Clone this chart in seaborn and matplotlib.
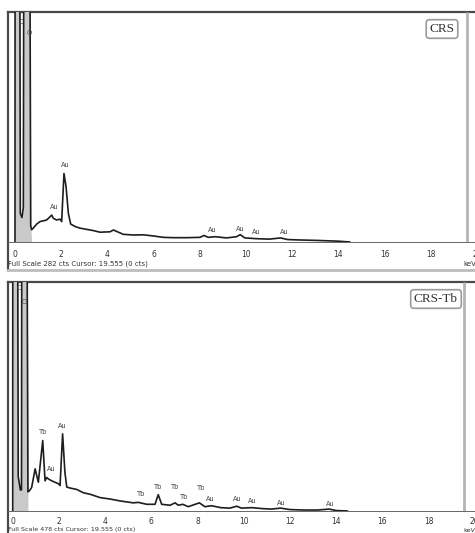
import numpy as np
import pandas as pd
import matplotlib
matplotlib.use("Agg")
import matplotlib.pyplot as plt
from matplotlib.ticker import MultipleLocator
import seaborn as sns

# EDS spectrum of CRS (energy in keV, counts)
crs_energy = [0.00, 0.005, 0.20, 0.23, 0.30, 0.36, 0.39, 0.63, 0.68, 0.72, 0.79, 0.94,
              1.08, 1.23, 1.37, 1.52, 1.59, 1.66, 1.80, 1.95, 2.02, 2.12, 2.21, 2.31,
              2.41, 2.60, 2.81, 3.10, 3.39, 3.68, 4.11, 4.26, 4.69, 5.11, 5.56, 5.99,
              6.42, 6.86, 7.43, 8.01, 8.18, 8.37, 8.66, 9.16, 9.59, 9.75, 9.95, 10.5,
              11.0, 11.5, 11.8, 12.3, 13.0, 14.0, 14.5]
crs_counts = [0, 500, 500, 35, 30, 42, 500, 500, 20, 15, 17, 22,
              25, 26, 27, 31, 33, 29, 27, 28, 25, 84, 68, 35,
              22, 19, 17, 15.5, 14, 12, 12.5, 14.7, 9.4, 8.6, 8.8, 7.4,
              5.7, 5.3, 5.3, 5.7, 8, 5.7, 6.5, 5, 6.5, 9, 5, 4,
              3.5, 5, 3, 2.5, 2, 1, 0]

# EDS spectrum of CRS-Tb (energy in keV, counts)
crstb_energy = [0.00, 0.005, 0.20, 0.24, 0.33, 0.38, 0.40, 0.60, 0.66, 0.72, 0.82, 0.97,
                1.11, 1.30, 1.40, 1.47, 1.54, 1.69, 1.83, 1.98, 2.05, 2.16, 2.26, 2.34,
                2.48, 2.77, 3.06, 3.35, 3.78, 4.21, 4.65, 5.22, 5.44, 5.80, 6.16, 6.30,
                6.45, 6.81, 7.03, 7.17, 7.36, 7.60, 8.08, 8.32, 8.61, 9.00, 9.40, 9.70,
                9.90, 10.35, 10.80, 11.20, 11.60, 12.00, 12.60, 13.20, 13.70, 14.00, 14.50]
crstb_counts = [0, 900, 900, 72, 44, 44, 900, 900, 40, 42, 49, 88,
                60, 147, 63, 70, 67, 63, 60, 57, 53, 161, 81, 50,
                48, 45, 38, 35, 28, 25, 21, 17, 18, 14, 14, 34,
                14, 12, 17, 12, 14, 9, 17, 9, 11, 7, 6, 10,
                6, 7, 5, 4, 6, 3, 2, 2, 4, 1, 0]

# Peak annotations: (text, energy, counts)
crs_labels = [("C", 0.26, 270), ("O", 0.60, 256), ("Au", 1.69, 43), ("Au", 2.16, 94),
              ("Au", 8.53, 15), ("Au", 9.74, 16), ("Au", 10.43, 12), ("Au", 11.64, 12)]
crstb_labels = [("C", 0.27, 466), ("O", 0.49, 437), ("Tb", 1.30, 164), ("Au", 1.69, 88),
                ("Au", 2.16, 177), ("Tb", 5.58, 36), ("Tb", 6.30, 50), ("Tb", 7.03, 50),
                ("Tb", 7.43, 30), ("Tb", 8.14, 48), ("Au", 8.54, 25), ("Au", 9.74, 25),
                ("Au", 10.35, 20), ("Au", 11.64, 17), ("Au", 13.74, 15)]

tick_values = list(range(0, 21, 2))
cursor_kev = 19.555

sns.set_style("white")
plt.rcParams["font.family"] = ["DejaVu Sans"]

W, H = 475, 533
PX_PER_KEV = 23.1
fig = plt.figure(figsize=(W / 100, H / 100), dpi=100)


def px_axes(left, top, right, bottom):
    """Axes placed by pixel edges measured from the top-left corner."""
    return fig.add_axes([left / W, 1 - bottom / H, (right - left) / W, (bottom - top) / H])


def panel(energy, counts, labels, name, name_x, full_scale, top, baseline, frame_bottom,
          zero_px, info_offset, tick_pad, info_size):
    # outer instrument frame
    frame = px_axes(8, top, 495, frame_bottom)
    frame.set_xticks([])
    frame.set_yticks([])
    frame.set_facecolor("white")
    frame.spines["right"].set_visible(False)
    for s in ("left", "top"):
        frame.spines[s].set_color("#4a4a4a")
        frame.spines[s].set_linewidth(1.6)
    frame.spines["bottom"].set_color("#bdbdbd")
    frame.spines["bottom"].set_linewidth(2.0)

    # spectrum axes, baseline at the bottom spine
    ax = px_axes(8, top, 495, baseline)
    ax.patch.set_alpha(0)
    df = pd.DataFrame({"Energy (keV)": energy, "Counts": counts})
    e = np.asarray(energy, dtype=float)
    c = np.asarray(counts, dtype=float)
    ax.fill_between(e, 0, c, where=e <= 0.70, color="#c9c9c9", lw=0, interpolate=True)
    sns.lineplot(data=df, x="Energy (keV)", y="Counts", ax=ax, sort=False,
                 estimator=None, color="#1e1e1e", lw=1.2)
    ax.vlines(cursor_kev, 0, full_scale, color="#b5b5b5", lw=2.0)
    ax.set_xlim((8 - zero_px) / PX_PER_KEV, (495 - zero_px) / PX_PER_KEV)
    ax.set_ylim(0, full_scale)
    ax.set_xlabel("")
    ax.set_ylabel("")
    ax.set_yticks([])
    ax.set_xticks(tick_values)
    ax.set_xticklabels([str(v) for v in tick_values])
    ax.xaxis.set_minor_locator(MultipleLocator(0.2))
    for s in ("left", "top", "right"):
        ax.spines[s].set_visible(False)
    ax.spines["bottom"].set_color("#666666")
    ax.spines["bottom"].set_linewidth(0.7)
    ax.tick_params(axis="x", which="major", direction="inout", length=4, width=0.7,
                   colors="#444444", labelsize=5.5, pad=tick_pad)
    ax.tick_params(axis="x", which="minor", direction="inout", length=2.5, width=0.6,
                   colors="#555555")
    ax.tick_params(axis="x", labelcolor="#333333")

    for txt, x, y in labels:
        ax.text(x, y, txt, fontsize=4.8, ha="center", va="center", color="#444444")

    fig.text(name_x / W, 1 - (top + 17) / H, name, family="Liberation Serif",
             fontsize=9.5, ha="center", va="center", color="#333333",
             bbox=dict(boxstyle="round,pad=0.25", fc="white", ec="#9a9a9a", lw=1.2))
    fig.text(8 / W, 1 - (baseline + info_offset) / H,
             f"Full Scale {full_scale} cts Cursor: {cursor_kev:.3f} (0 cts)",
             fontsize=info_size, ha="left", va="center", color="#333333")
    fig.text(463 / W, 1 - (baseline + info_offset) / H, "keV", fontsize=info_size,
             ha="left", va="center", color="#333333")
    return ax


panel(crs_energy, crs_counts, crs_labels, "CRS", 442, 282, 12, 242, 270, 15.0, 22, 4, 5)
panel(crstb_energy, crstb_counts, crstb_labels, "CRS-Tb", 436, 478, 282, 511, 545, 12.7,
      19, 2.5, 4.6)

fig.savefig("out.png", dpi=100)
